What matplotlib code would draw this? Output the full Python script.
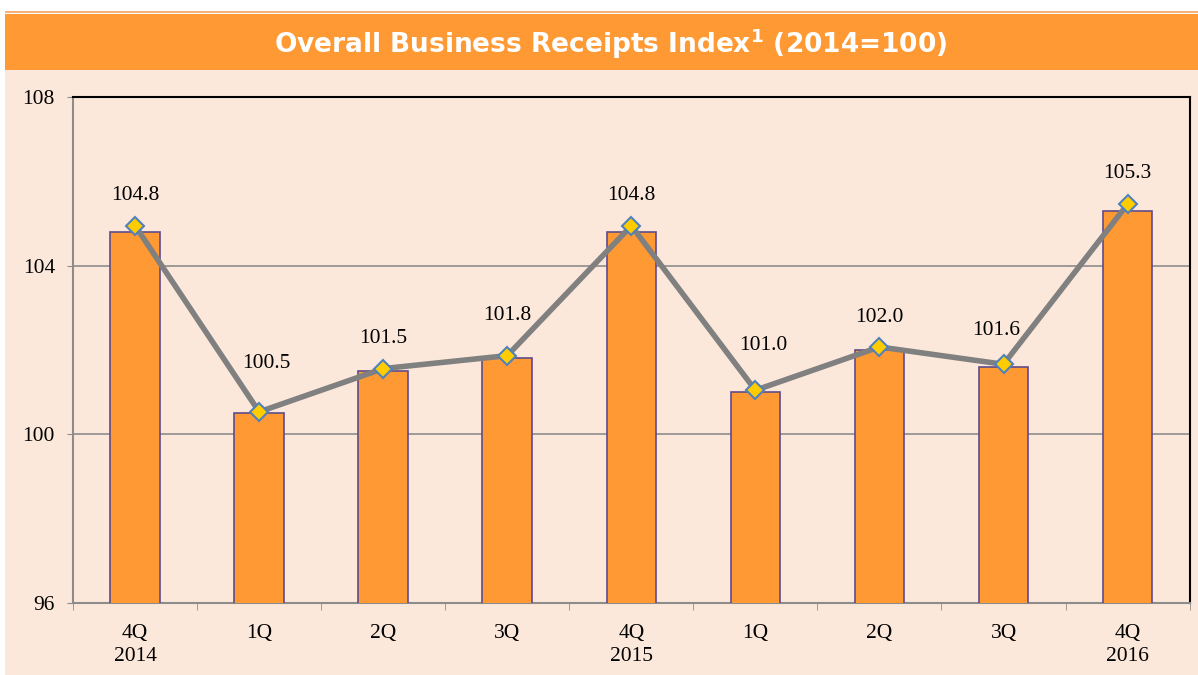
import numpy as np
import matplotlib
matplotlib.use('Agg')
import matplotlib.pyplot as plt
from matplotlib.patches import Rectangle

quarters = ['4Q\n2014', '1Q', '2Q', '3Q', '4Q\n2015', '1Q', '2Q', '3Q', '4Q\n2016']
index_vals = [104.8, 100.5, 101.5, 101.8, 104.8, 101.0, 102.0, 101.6, 105.3]
y_ticks = [96, 100, 104, 108]

# label placement (offset points from each marker), as set by hand in the original
label_dx = [0, 5, 0, 0, 0, 6, 0, -5, 0]
label_dy = [21.5, 35, 21.5, 29, 21.5, 32, 21.5, 24, 22]

bg = '#FCE8DA'
orange = '#FF9933'

fig = plt.figure(figsize=(11.98, 6.75), dpi=100)
fig.patch.set_facecolor('white')

# background panels
fig.add_artist(Rectangle((0.004, 0), 0.996, 0.897, transform=fig.transFigure,
                         facecolor=bg, edgecolor='none', zorder=0))
fig.add_artist(Rectangle((0.004, 0.897), 0.996, 0.083, transform=fig.transFigure,
                         facecolor=orange, edgecolor='none', zorder=0))
fig.add_artist(Rectangle((0.004, 0.981), 0.996, 0.003, transform=fig.transFigure,
                         facecolor='#F7B27A', edgecolor='none', zorder=0))
fig.text(0.51, 0.935, r'Overall Business Receipts Index$^{\mathbf{1}}$ (2014=100)',
         ha='center', va='center', color='white', fontsize=19, fontweight='bold',
         family='DejaVu Sans')

ax = fig.add_axes([0.061, 0.107, 0.932, 0.749])
ax.set_facecolor(bg)
x = np.arange(len(quarters))
ax.bar(x, index_vals, bottom=0, width=0.4, color=orange, edgecolor='#5F4B8B',
       linewidth=1.2, zorder=3)
ax.set_ylim(96, 108)
ax.set_xlim(-0.5, len(quarters) - 0.5)
ax.set_yticks(y_ticks)
ax.yaxis.grid(True, color='#8C8C8C', linewidth=1.2, zorder=0)
ax.set_axisbelow(True)
ax.set_xticks(x)
ax.set_xticklabels(quarters, family='Liberation Serif', fontsize=15.5, linespacing=1.3)
ax.set_xticks(np.arange(-0.5, len(quarters), 1), minor=True)
ax.tick_params(axis='x', which='major', length=0, pad=15)
ax.tick_params(axis='x', which='minor', length=5, color='#8C8C8C', direction='out')
ax.tick_params(axis='y', length=4, color='#8C8C8C', direction='out', pad=9)
for lab in ax.get_yticklabels():
    lab.set_family('Liberation Serif')
    lab.set_fontsize(15.5)
for s in ['left', 'bottom']:
    ax.spines[s].set_color('#8C8C8C')
    ax.spines[s].set_linewidth(1.5)
for s in ['top', 'right']:
    ax.spines[s].set_color('black')
    ax.spines[s].set_linewidth(1.5)

# line on a secondary scale
ax2 = ax.twinx()
ax2.set_ylim(96.09, 107.77)
ax2.plot(x, index_vals, color='#808080', linewidth=4, zorder=4,
         marker='D', markersize=9, markerfacecolor='#FFCC00',
         markeredgecolor='#4F81BD', markeredgewidth=1.5)
for xi, v, dx, dy in zip(x, index_vals, label_dx, label_dy):
    ax2.annotate(f'{v:.1f}', (xi, v), xytext=(dx, dy), textcoords='offset points',
                 ha='center', va='center', family='Liberation Serif', fontsize=15.5)
ax2.set_yticks([])
for s in ax2.spines.values():
    s.set_visible(False)

fig.savefig('out.png', dpi=100, facecolor=fig.get_facecolor())
